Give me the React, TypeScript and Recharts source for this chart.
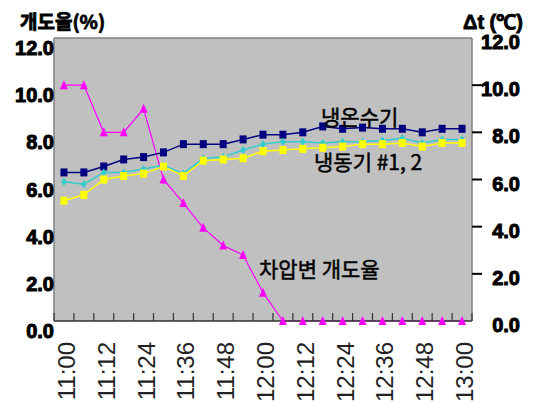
import React from "react";
import {
  LineChart,
  Line,
  XAxis,
  YAxis,
  CartesianGrid,
  ReferenceLine,
} from "recharts";

// 11:00 ~ 13:00, 6-minute steps
const times = [
  "11:00", "11:06", "11:12", "11:18", "11:24", "11:30", "11:36",
  "11:42", "11:48", "11:54", "12:00", "12:06", "12:12", "12:18",
  "12:24", "12:30", "12:36", "12:42", "12:48", "12:54", "13:00",
];

// 차압변 개도율 (%)
const valveOpening = [
  10.0, 10.0, 8.0, 8.0, 9.0, 6.0, 5.0, 3.95, 3.2, 2.8, 1.2,
  0, 0, 0, 0, 0, 0, 0, 0, 0, 0,
];
// 냉온수기 Δt
const chillerHeater = [
  6.3, 6.3, 6.55, 6.85, 6.95, 7.15, 7.5, 7.5, 7.5, 7.7, 7.9,
  7.9, 8.0, 8.25, 8.15, 8.2, 8.15, 8.15, 8.0, 8.15, 8.15,
];
// 냉동기 #1 Δt
const chiller1 = [
  5.9, 5.8, 6.3, 6.3, 6.45, 6.6, 6.25, 6.9, 6.95, 7.25, 7.5,
  7.6, 7.6, 7.55, 7.6, 7.6, 7.65, 7.75, 7.55, 7.7, 7.7,
];
// 냉동기 #2 Δt
const chiller2 = [
  5.1, 5.35, 6.0, 6.15, 6.25, 6.55, 6.15, 6.8, 6.85, 6.9, 7.2,
  7.25, 7.3, 7.35, 7.4, 7.5, 7.5, 7.55, 7.4, 7.55, 7.55,
];

const yTicks = [0, 2, 4, 6, 8, 10, 12];
// labels every 12 minutes (every other point), tick marks on the category boundaries
const labelTicks = times.map((_, i) => i).filter((i) => i % 2 === 0);
const boundaryTicks = times.map((_, i) => i - 0.5).concat([times.length - 0.5]);
const xTicks = [...boundaryTicks, ...labelTicks].sort((a, b) => a - b);

const data = times.map((t, i) => ({
  idx: i,
  time: t,
  valve: valveOpening[i],
  heater: chillerHeater[i],
  c1: chiller1[i],
  c2: chiller2[i],
}));

const numFont = "'Liberation Sans', Arial, sans-serif";
const krFont = "'Noto Sans CJK KR', sans-serif";

const SquareDot = (color: string) => (props: any) => {
  const { cx, cy, index } = props;
  if (cx == null || cy == null) return null;
  return <rect key={index} x={cx - 3.5} y={cy - 4} width={7} height={8} fill={color} />;
};

const TriangleDot = (props: any) => {
  const { cx, cy, index } = props;
  if (cx == null || cy == null) return null;
  return (
    <polygon
      key={index}
      points={`${cx},${cy - 5} ${cx + 4},${cy + 4} ${cx - 4},${cy + 4}`}
      fill="#FF00FF"
    />
  );
};

const DiamondDot = (props: any) => {
  const { cx, cy, index } = props;
  if (cx == null || cy == null) return null;
  return (
    <polygon
      key={index}
      points={`${cx},${cy - 4} ${cx + 3},${cy} ${cx},${cy + 4} ${cx - 3},${cy}`}
      fill="#33CCCC"
    />
  );
};

// heavy numerals like the original (bold + a thin outline)
const boldNum = {
  fontFamily: numFont,
  fontWeight: 700,
  fontSize: 20,
  stroke: "#000",
  strokeWidth: 1,
};

const LeftTick = (props: any) => {
  const { x, y, payload } = props;
  return (
    <text x={x} y={y + 10} textAnchor="end" dominantBaseline="central" style={boldNum} fill="#000">
      {Number(payload.value).toFixed(1)}
    </text>
  );
};

const RightTick = (props: any) => {
  const { x, y, payload } = props;
  const v = Number(payload.value);
  return (
    <g>
      {v > 0 && v < 12 && <line x1={x} x2={x + 10} y1={y} y2={y} stroke="#000" strokeWidth={2} />}
      <text x={x + 48} y={y + 4} textAnchor="end" dominantBaseline="central" style={boldNum} fill="#000">
        {v.toFixed(1)}
      </text>
    </g>
  );
};

const TimeTick = (props: any) => {
  const { x, y, payload } = props;
  const v = Number(payload.value);
  if (!Number.isInteger(v)) {
    return <line x1={x} x2={x} y1={y - 8} y2={y} stroke="#333" strokeWidth={1.2} />;
  }
  return (
    <text
      transform={`translate(${x + 11},${y + 21}) rotate(-90)`}
      textAnchor="end"
      style={{ fontFamily: numFont, fontSize: 24 }}
      fill="#222"
    >
      {times[v]}
    </text>
  );
};

const note: React.CSSProperties = {
  position: "absolute",
  fontFamily: krFont,
  fontSize: 21,
  lineHeight: "22px",
  whiteSpace: "nowrap",
  WebkitTextStroke: "0.5px #000",
};

export default function App() {
  return (
    <div
      style={{
        position: "absolute",
        left: 0,
        top: 0,
        width: 537,
        height: 409,
        background: "#fff",
        overflow: "hidden",
      }}
    >
      <LineChart
        width={537}
        height={409}
        data={data}
        margin={{ top: 38, right: 0, bottom: 0, left: 0 }}
      >
        <CartesianGrid
          horizontal={false}
          vertical={false}
          fill="#C0C0C0"
          fillOpacity={1}
        />
        <XAxis
          dataKey="idx"
          type="number"
          domain={[-0.5, times.length - 0.5]}
          ticks={xTicks}
          tick={<TimeTick />}
          tickLine={false}
          axisLine={{ stroke: "#333", strokeWidth: 1.5 }}
          tickSize={0}
          tickMargin={0}
          height={88}
          interval={0}
        />
        <YAxis
          yAxisId="left"
          domain={[0, 12]}
          ticks={yTicks}
          width={54}
          tick={<LeftTick />}
          tickLine={false}
          tickSize={0}
          tickMargin={0}
          axisLine={{ stroke: "#808080", strokeWidth: 1.5 }}
          interval={0}
        />
        <YAxis
          yAxisId="right"
          orientation="right"
          domain={[0, 12]}
          ticks={yTicks}
          width={65}
          tick={<RightTick />}
          tickLine={false}
          tickSize={0}
          tickMargin={0}
          axisLine={{ stroke: "#808080", strokeWidth: 1.5 }}
          interval={0}
        />
        <ReferenceLine yAxisId="left" y={12} stroke="#808080" strokeWidth={1.5} />
        <Line
          yAxisId="left"
          dataKey="valve"
          stroke="#FF00FF"
          strokeWidth={1.2}
          dot={TriangleDot}
          activeDot={false}
          isAnimationActive={false}
        />
        <Line
          yAxisId="right"
          dataKey="heater"
          stroke="#000080"
          strokeWidth={1.5}
          dot={SquareDot("#000080")}
          activeDot={false}
          isAnimationActive={false}
        />
        <Line
          yAxisId="right"
          dataKey="c1"
          stroke="#33CCCC"
          strokeWidth={1.5}
          dot={DiamondDot}
          activeDot={false}
          isAnimationActive={false}
        />
        <Line
          yAxisId="right"
          dataKey="c2"
          stroke="#FFFF00"
          strokeWidth={1.5}
          dot={SquareDot("#FFFF00")}
          activeDot={false}
          isAnimationActive={false}
        />
      </LineChart>

      <div style={{ ...note, left: 20, top: 10, fontSize: 19, fontWeight: 700, WebkitTextStroke: "0.8px #000" }}>
        개도율(%)
      </div>
      <div style={{ ...note, left: 463, top: 11, fontSize: 20, fontFamily: numFont, fontWeight: 700, WebkitTextStroke: "0.8px #000" }}>
        Δt (℃)
      </div>
      <div style={{ ...note, left: 321, top: 105 }}>냉온수기</div>
      <div style={{ ...note, left: 314, top: 150 }}>냉동기 #1, 2</div>
      <div style={{ ...note, left: 259, top: 257 }}>차압변 개도율</div>
    </div>
  );
}
